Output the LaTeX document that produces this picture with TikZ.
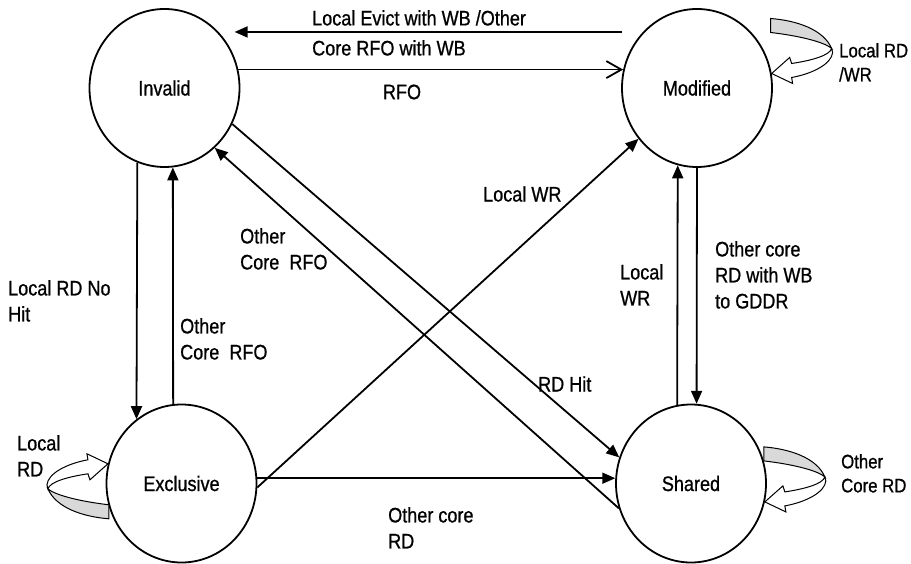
\documentclass[tikz,border=0pt]{standalone}
\usepackage{fontspec}
\setmainfont{Liberation Sans}[FakeStretch=0.86, FakeBold=0.8]
\usetikzlibrary{arrows.meta}
\usetikzlibrary{shapes.geometric}

\newcommand\diagfont{\fontsize{21}{26}\selectfont}
\newcommand\loopfont{\fontsize{19.5}{24}\selectfont}

% curved 3D loop arrow drawn at a point of a state
\newcommand\turnloop[2]{%
  \begin{scope}[shift={(#1)}, rotate=#2, line width=1pt]
    \filldraw[fill=gray!30] (-1,-55) .. controls (25,-53) and (52,-44) .. (60,-25)
      .. controls (52,-32) and (25,-38) .. (-1,-41) -- cycle;
    \filldraw[fill=white] (60,-25) .. controls (58,-18) and (40,-13) .. (20,-10)
      -- (18,-16) -- (0,0) -- (21,10) -- (20,4)
      .. controls (42,0) and (60,-10) .. (61,-21) -- cycle;
  \end{scope}}

\begin{document}
\begin{tikzpicture}[
        x=1pt, y=-1pt,
        state/.style={ellipse, draw, line width=1.8pt, minimum width=150pt, minimum height=158pt, inner sep=0pt, font=\diagfont},
        trans/.style={-{Triangle[length=13pt,width=11pt]}, line width=1.8pt},
        openarrow/.style={-{Straight Barb[length=15pt,width=17pt]}, line width=1.8pt},
        edgetext/.style={inner sep=0pt, align=left, font=\diagfont},
    ]
    \useasboundingbox (0,0) rectangle (911,564);
    \node[state] (I) at (164.5,88) {Invalid};
    \node[state] (M) at (697,88) {Modified};
    \node[state] (E) at (181.5,483.5) {Exclusive};
    \node[state] (S) at (691,483.5) {Shared};

    \draw[trans] ([xshift=-21pt]M.134) -- ([xshift=16pt]I.46);
    \draw[openarrow] (I.14) -- (M.166);
    \draw[trans] (I.250) -- (E.125);
    \draw[trans] (E.96) -- (I.276);
    \draw[trans] (I.-28) -- (S.160);
    \draw[trans] (S.199) -- (I.-50);
    \draw[trans] (E.-3) -- (M.221);
    \draw[trans] (E.4) -- (S.176);
    \draw[trans] (S.100) -- (M.256);
    \draw[trans] (M.270) -- (S.86);

    \node[edgetext, anchor=north west] (evict) at (312,10) {Local Evict with WB /Other\\[4pt]Core RFO with WB};
    \node[edgetext] (rfo) at (402,92) {RFO};
    \node[edgetext, anchor=north west] (rdnohit) at (8,280) {Local RD No\\Hit};
    \node[edgetext, anchor=north west] (ie) at (180,318) {Other\\Core~ RFO};
    \node[edgetext, anchor=north west] (si) at (240,228) {Other\\Core~ RFO};
    \node[edgetext, anchor=west] (lwr) at (483,194) {Local WR};
    \node[edgetext, anchor=west] (rdhit) at (538,384) {RD Hit};
    \node[edgetext, anchor=north west] (ocrd) at (388,507) {Other core\\RD};
    \node[edgetext, anchor=north west] (swr) at (620,264) {Local\\WR};
    \node[edgetext, anchor=north west] (gddr) at (715,241) {Other core\\RD with WB\\to GDDR};

    \turnloop{M.11}{0}
    \turnloop{S.-14}{0}
    \turnloop{E.165}{180}
    \node[edgetext, font=\loopfont, anchor=north west] (mloop) at (839,43) {Local RD\\/WR};
    \node[edgetext, font=\loopfont, anchor=north west] (sloop) at (841,454) {Other\\Core RD};
    \node[edgetext, anchor=north west] (eloop) at (17,435) {Local\\RD};
\end{tikzpicture}
\end{document}
